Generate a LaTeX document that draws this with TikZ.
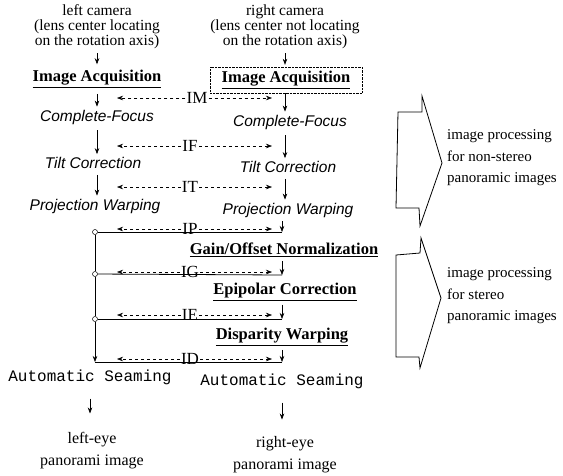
\documentclass[tikz,border=0pt]{standalone}
\usepackage{fontspec}
\setmainfont{Liberation Serif}
\setsansfont{Liberation Sans}
\setmonofont{Liberation Mono}
\usetikzlibrary{arrows.meta}

\begin{document}
\begin{tikzpicture}[x=1pt,y=-1pt,
  caption/.style={font=\fontsize{15.5}{15}\selectfont, align=center, inner sep=0pt},
  stage/.style={font=\fontsize{16.5}{18}\selectfont\bfseries, inner sep=1pt},
  proc/.style={font=\fontsize{15.5}{17}\selectfont\sffamily\itshape, inner sep=1pt},
  seam/.style={font=\fontsize{16}{18}\selectfont\ttfamily, inner sep=1pt},
  tag/.style={font=\fontsize{17}{18}\selectfont, inner sep=1pt},
  note/.style={font=\fontsize{15}{21.5}\selectfont, align=left, anchor=west, inner sep=0pt},
  flow/.style={-{Stealth[length=6pt,width=4.5pt]}, line width=0.6pt},
  xflow/.style={-{Stealth[length=6pt,width=4.5pt]}, dashed, line width=0.5pt},
  link/.style={line width=0.8pt},
  joint/.style={circle, draw, fill=white, inner sep=0pt, minimum size=5pt, line width=0.5pt},
  callout/.style={line width=0.8pt, line join=miter}
]
\useasboundingbox (0,0) rectangle (563,475);

% cameras
\node[caption] (lcam) at (97,27) {left camera\\(lens center locating\\on the rotation axis)};
\node[caption] (rcam) at (285,27) {right camera\\(lens center not locating\\on the rotation axis)};

% non-stereo steps
\node[stage] (lacq) at (97,79) {\underline{Image Acquisition}};
\node[stage, draw, densely dotted, minimum width=152pt, minimum height=26pt] (racq) at (286,80) {\underline{Image Acquisition}};
\node[proc] (lfoc) at (97,117) {Complete-Focus};
\node[proc] (rfoc) at (290,122) {Complete-Focus};
\node[proc] (ltilt) at (93,163) {Tilt Correction};
\node[proc] (rtilt) at (288,167) {Tilt Correction};
\node[proc] (lproj) at (95,206) {Projection Warping};
\node[proc] (rproj) at (288,210) {Projection Warping};

% stereo steps
\node[stage] (gain) at (284,250) {\underline{Gain/Offset Normalization}};
\node[stage] (epi) at (285,292) {\underline{Epipolar Correction}};
\node[stage] (disp) at (282,337) {\underline{Disparity Warping}};

% seaming and outputs
\node[seam] (lseam) at (90,377) {Automatic Seaming};
\node[seam] (rseam) at (282,381) {Automatic Seaming};
\node[caption, font=\fontsize{16}{22}\selectfont] (leye) at (92,451) {left-eye\\panorami image};
\node[caption, font=\fontsize{16}{22}\selectfont] (reye) at (285,455) {right-eye\\panorami image};

% exchange tags
\node[tag] (tIM) at (197,98) {IM};
\node[tag] (tIF) at (190,146) {IF};
\node[tag] (tIT) at (190,187) {IT};
\node[tag] (tIP) at (190,229) {IP};
\node[tag] (tIG) at (190,272) {IG};
\node[tag] (tIE) at (190,315) {IE};
\node[tag] (tID) at (190,359) {ID};

% joints of the stereo chain
\node[joint] (jP) at (95,232) {};
\node[joint] (jG) at (95,274) {};
\node[joint] (jE) at (95,319) {};
\coordinate (jD) at (95,362);
\coordinate (rP) at (282,232);
\coordinate (rG) at (282,275);
\coordinate (rE) at (282,319);
\coordinate (rD) at (282,362);

% left chain
\draw[flow, shorten <=4pt, shorten >=5pt] (lcam.south) -- (lcam.south |- lacq.north);
\draw[flow, shorten <=5pt, shorten >=2pt] (lacq.south) -- (lacq.south |- lfoc.north);
\draw[flow, shorten <=5pt, shorten >=2pt] (lfoc.south) -- (lfoc.south |- ltilt.north);
\draw[flow, shorten <=5pt, shorten >=2pt] (ltilt.south -| lfoc) -- (lproj.north -| lfoc);

% right chain
\draw[flow, shorten <=4pt, shorten >=2pt] (rcam.south) -- (rcam.south |- racq.north);
\draw[flow, shorten >=2pt] (racq.south -| rcam) -- (rfoc.north -| rcam);
\draw[flow, shorten <=5pt, shorten >=2pt] (rfoc.south -| rcam) -- (rtilt.north -| rcam);
\draw[flow, shorten <=5pt, shorten >=2pt] (rtilt.south -| rcam) -- (rproj.north -| rcam);

% stereo chain
\draw[link] (jP) -- (jG) -- (jE);
\draw[flow] (jE) -- (jD);
\draw[link] (jP) -- (rP);
\draw[link] (jG) -- (rG);
\draw[link] (jE) -- (rE);
\draw[link] (jD) -- (rD);
\draw[flow, shorten <=3pt] (rproj.south -| rP) -- (rP);
\draw[flow, shorten <=3pt] (gain.south -| rG) -- (rG);
\draw[flow, shorten <=3pt] (epi.south -| rE) -- (rE);
\draw[flow, shorten <=3pt] (disp.south -| rD) -- (rD);

% outputs
\draw[flow, shorten <=13pt, shorten >=19pt] (lseam.south) -- (lseam.south |- leye.north);
\draw[flow, shorten <=13pt, shorten >=17pt] (rseam.south) -- (rseam.south |- reye.north);

% exchanges between the cameras
\foreach \t in {IM,IF,IT,IP,IG,IE,ID}{
  \draw[xflow, shorten >=20pt] (t\t.west) -- (t\t.west -| lfoc);
  \draw[xflow, shorten >=14pt] (t\t.east) -- (t\t.east -| racq);
}

% image processing groups
\draw[callout] (398,112) -- (422,112) -- (422,96) -- (442,163) -- (420,226)
  -- (419,208) -- (396,208) -- cycle;
\draw[callout] (396,255) -- (420,253) -- (421,238) -- (441,298) -- (420,368)
  -- (419,357) -- (396,357) -- cycle;
\node[note] (nonstereo) at (447,158) {image processing\\for non-stereo\\panoramic images};
\node[note] (stereo) at (447,296) {image processing\\for stereo\\panoramic images};
\end{tikzpicture}
\end{document}
